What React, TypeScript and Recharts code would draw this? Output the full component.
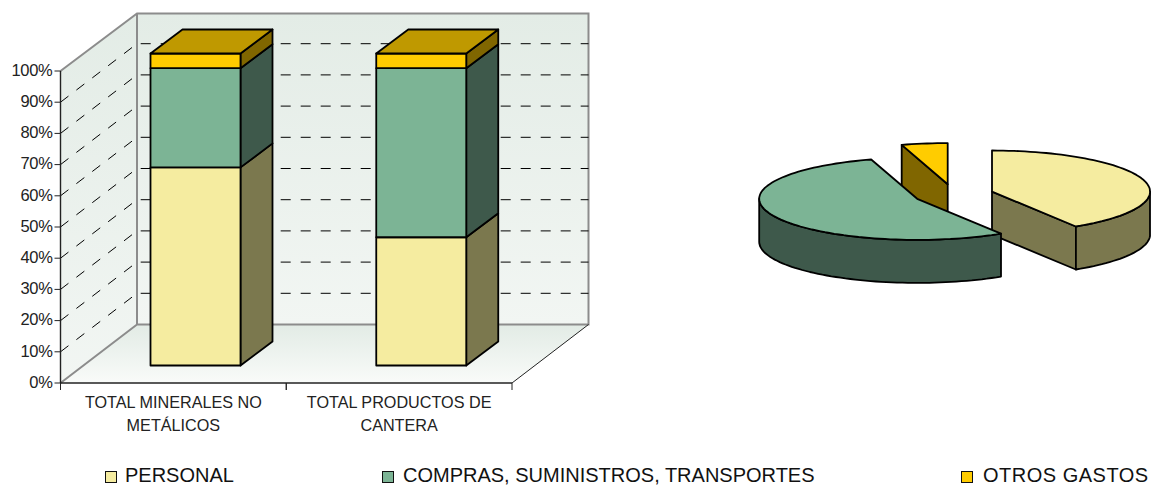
import React from "react";
import { BarChart, Bar, XAxis, YAxis, CartesianGrid, Legend, PieChart, Pie } from "recharts";

const W = 1151, H = 486;
const FONT = "'Liberation Sans', Arial, sans-serif";

// ---- data ----
const categories = ["TOTAL MINERALES NO METÁLICOS", "TOTAL PRODUCTOS DE CANTERA"];
const seriesNames = ["PERSONAL", "COMPRAS, SUMINISTROS, TRANSPORTES", "OTROS GASTOS"];
const personal = [63.5, 41.1];
const compras = [31.8, 54.2];
const otros = [4.7, 4.7];
const yTicks = [0, 10, 20, 30, 40, 50, 60, 70, 80, 90, 100];
const pieValues = [41.1, 54.2, 4.7];

const fills = ["#F5ECA0", "#7CB495", "#FFCC00"];
const sides = ["#7B784E", "#3E594B", "#806600"];
const topFill = "#BF9900";

const barRows = categories.map((name, i) => ({
  name,
  s0: personal[i],
  s1: compras[i],
  s2: otros[i],
}));

// pie slices are painted back to front; the angle keeps the first slice at 12 o'clock
const pieRows = [2, 0, 1].map((i) => ({
  name: seriesNames[i],
  value: pieValues[i],
  fill: fills[i],
  side: sides[i],
}));
const pieTotal = pieValues.reduce((a, b) => a + b, 0);
const pieStart = 90 + (pieValues[2] / pieTotal) * 360;

// ---- layout ----
const PLOT = { left: 60.5, right: 512, top: 71, bottom: 383 };
const WALL = { dx: 76.5, dy: -58.5 };
const BAR_SHIFT = { dx: 22, dy: -17.5 };
const BAR_DEPTH = { dx: 32, dy: -24 };
const PIE = { cx: 953.6, cy: 194.5, r: 158, k: 0.26, depth: 43, explode: 40 };

function BarShape(props: any) {
  const { x, y, width, height, sIdx } = props;
  const fx = x + BAR_SHIFT.dx;
  const fy = y + BAR_SHIFT.dy;
  const { dx, dy } = BAR_DEPTH;
  const stroke = { stroke: "#000", strokeWidth: 1.8, strokeLinejoin: "round" as const };
  return (
    <g>
      <path
        d={`M${fx + width},${fy} L${fx + width + dx},${fy + dy} L${fx + width + dx},${fy + height + dy} L${fx + width},${fy + height} Z`}
        fill={sides[sIdx]}
        {...stroke}
      />
      <rect x={fx} y={fy} width={width} height={height} fill={fills[sIdx]} {...stroke} />
      {sIdx === 2 && (
        <path
          d={`M${fx},${fy} L${fx + dx},${fy + dy} L${fx + width + dx},${fy + dy} L${fx + width},${fy} Z`}
          fill={topFill}
          {...stroke}
        />
      )}
    </g>
  );
}

function GridLine(props: any) {
  const { x1, y1, x2, y2 } = props;
  if (Math.abs(y1 - PLOT.top) < 1 || Math.abs(y1 - PLOT.bottom) < 1) return <g />;
  return (
    <path
      d={`M${x1},${y1} L${x1 + WALL.dx},${y1 + WALL.dy} L${x2 + WALL.dx},${y2 + WALL.dy}`}
      fill="none"
      stroke="#000"
      strokeWidth={1}
      strokeDasharray="10 10"
    />
  );
}

function wrapLabel(s: string) {
  const lines: string[] = [];
  let cur = "";
  s.split(" ").forEach((w) => {
    if (cur && (cur + " " + w).length > 20) {
      lines.push(cur);
      cur = w;
    } else cur = cur ? cur + " " + w : w;
  });
  if (cur) lines.push(cur);
  return lines;
}

function XTick(props: any) {
  const { x, payload } = props;
  const half = (PLOT.right - PLOT.left) / categories.length / 2;
  const lines = wrapLabel(String(payload.value));
  return (
    <g>
      <line x1={x - half} x2={x - half} y1={PLOT.bottom} y2={PLOT.bottom + 7} stroke="#222" strokeWidth={1} />
      <line x1={x + half} x2={x + half} y1={PLOT.bottom} y2={PLOT.bottom + 7} stroke="#222" strokeWidth={1} />
      {lines.map((l, i) => (
        <text key={i} x={x} y={PLOT.bottom + 25 + i * 23} textAnchor="middle" fontSize={16.2} fontFamily={FONT} fill="#222">
          {l}
        </text>
      ))}
    </g>
  );
}

const legendPos = [
  { box: 105, text: 125, spacing: 0 },
  { box: 382, text: 403, spacing: 0 },
  { box: 961, text: 983, spacing: 0.5 },
];

function LegendContent() {
  return (
    <div style={{ position: "relative", width: W, height: 18 }}>
      {seriesNames.map((n, i) => (
        <React.Fragment key={n}>
          <div
            style={{
              position: "absolute",
              left: legendPos[i].box,
              top: 5,
              width: 10,
              height: 10,
              background: fills[i],
              border: "1.5px solid #111",
            }}
          />
          <div
            style={{
              position: "absolute",
              left: legendPos[i].text,
              top: 0,
              whiteSpace: "nowrap",
              fontFamily: FONT,
              fontSize: 20,
              lineHeight: "18px",
              letterSpacing: legendPos[i].spacing,
              color: "#111",
            }}
          >
            {n}
          </div>
        </React.Fragment>
      ))}
    </div>
  );
}

function PieSlice(props: any) {
  const { cx, cy, outerRadius: r, startAngle, endAngle, payload } = props;
  const rad = (a: number) => (a * Math.PI) / 180;
  const k = PIE.k;
  const mid = (startAngle + endAngle) / 2;
  const c = {
    x: cx + PIE.explode * Math.cos(rad(mid)),
    y: cy - PIE.explode * k * Math.sin(rad(mid)),
  };
  const pt = (a: number, d = 0) => ({
    x: c.x + r * Math.cos(rad(a)),
    y: c.y - r * k * Math.sin(rad(a)) + d,
  });
  const arc = (a0: number, a1: number, d = 0) => {
    const out: { x: number; y: number }[] = [];
    const n = Math.max(2, Math.ceil(Math.abs(a1 - a0) / 2));
    for (let i = 0; i <= n; i++) out.push(pt(a0 + ((a1 - a0) * i) / n, d));
    return out;
  };
  const poly = (ps: { x: number; y: number }[]) =>
    "M" + ps.map((p) => `${p.x.toFixed(1)},${p.y.toFixed(1)}`).join(" L") + " Z";
  const stroke = { stroke: "#000", strokeWidth: 1.8, strokeLinejoin: "round" as const };
  const fill = payload?.fill ?? props.fill;
  const side = payload?.side ?? props.side;

  const m = pt(mid);
  const radial = (a: number) => {
    const p = pt(a);
    const px = p.x - c.x, py = p.y - c.y, mx = m.x - c.x, my = m.y - c.y;
    if (Math.abs(px) < 0.5) return null;
    if (my >= (py / px) * mx) return null;
    return (
      <path
        key={a}
        d={poly([c, p, { x: p.x, y: p.y + PIE.depth }, { x: c.x, y: c.y + PIE.depth }])}
        fill={side}
        {...stroke}
      />
    );
  };
  const lo = Math.max(endAngle, -180);
  const hi = Math.min(startAngle, 0);
  return (
    <g>
      {radial(startAngle)}
      {radial(endAngle)}
      {hi > lo && <path d={poly([...arc(hi, lo), ...arc(lo, hi, PIE.depth)])} fill={side} {...stroke} />}
      <path d={poly([c, ...arc(startAngle, endAngle)])} fill={fill} {...stroke} />
    </g>
  );
}

function Backdrop() {
  const { left: l, right: r, top: t, bottom: b } = PLOT;
  const { dx, dy } = WALL;
  return (
    <svg width={W} height={H} style={{ position: "absolute", left: 0, top: 0 }}>
      <defs>
        <linearGradient id="wall" x1="0" y1="0" x2="0" y2="1">
          <stop offset="0" stopColor="#E3ECE6" />
          <stop offset="1" stopColor="#F2F6F3" />
        </linearGradient>
        <linearGradient id="floor" x1="0" y1="0" x2="0" y2="1">
          <stop offset="0" stopColor="#E2EBE5" />
          <stop offset="1" stopColor="#F9FBF9" />
        </linearGradient>
      </defs>
      <path d={`M${l},${t} L${l + dx},${t + dy + 1} L${l + dx},${b + dy} L${l},${b} Z`} fill="url(#wall)" />
      <path d={`M${l + dx},${t + dy + 1} H${r + dx} V${b + dy} H${l + dx} Z`} fill="url(#wall)" />
      <path d={`M${l},${b} L${l + dx},${b + dy} H${r + dx} L${r},${b} Z`} fill="url(#floor)" />
      <path
        d={`M${l},${t} L${l + dx},${t + dy + 1} H${r + dx} V${b + dy} H${l + dx} V${t + dy + 1} M${l + dx},${b + dy} L${l},${b}`}
        fill="none"
        stroke="#8C8C8C"
        strokeWidth={2}
      />
      <path d={`M${r + dx},${b + dy} L${r},${b}`} fill="none" stroke="#222" strokeWidth={1} />
    </svg>
  );
}

export default function App() {
  return (
    <div style={{ position: "absolute", left: 0, top: 0, width: W, height: H, background: "#fff", overflow: "hidden" }}>
      <Backdrop />
      <div style={{ position: "absolute", left: 0, top: 0 }}>
        <BarChart
          width={W}
          height={H}
          data={barRows}
          margin={{ left: 0, right: W - PLOT.right, top: PLOT.top, bottom: 0 }}
          barSize={90}
        >
          <CartesianGrid vertical={false} horizontal={GridLine as any} syncWithTicks />
          <XAxis
            dataKey="name"
            interval={0}
            height={H - PLOT.bottom}
            tickLine={false}
            axisLine={{ stroke: "#222", strokeWidth: 1.4 }}
            tick={XTick as any}
          />
          <YAxis
            width={PLOT.left}
            domain={[0, 100]}
            ticks={yTicks}
            interval={0}
            tickFormatter={(v: number) => `${v}%`}
            tickSize={6}
            tickMargin={2}
            tickLine={{ stroke: "#222" }}
            axisLine={{ stroke: "#222", strokeWidth: 1.4 }}
            tick={{ fontSize: 16.5, fontFamily: FONT, fill: "#222", letterSpacing: -0.3, dy: -1 }}
          />
          <Legend
            verticalAlign="middle"
            content={LegendContent as any}
            wrapperStyle={{ left: 0, top: 465.5, width: W, height: 18 }}
          />
          {seriesNames.map((n, i) => (
            <Bar
              key={n}
              name={n}
              dataKey={`s${i}`}
              stackId="a"
              fill={fills[i]}
              isAnimationActive={false}
              shape={(p: any) => <BarShape {...p} sIdx={i} />}
            />
          ))}
        </BarChart>
      </div>
      <div style={{ position: "absolute", left: 0, top: 0 }}>
        <PieChart width={W} height={H} margin={{ left: 0, right: 0, top: 0, bottom: 0 }}>
          <Pie
            data={pieRows}
            dataKey="value"
            nameKey="name"
            cx={PIE.cx}
            cy={PIE.cy}
            outerRadius={PIE.r}
            innerRadius={0}
            startAngle={pieStart}
            endAngle={pieStart - 360}
            paddingAngle={0}
            isAnimationActive={false}
            shape={PieSlice as any}
          />
        </PieChart>
      </div>
    </div>
  );
}
